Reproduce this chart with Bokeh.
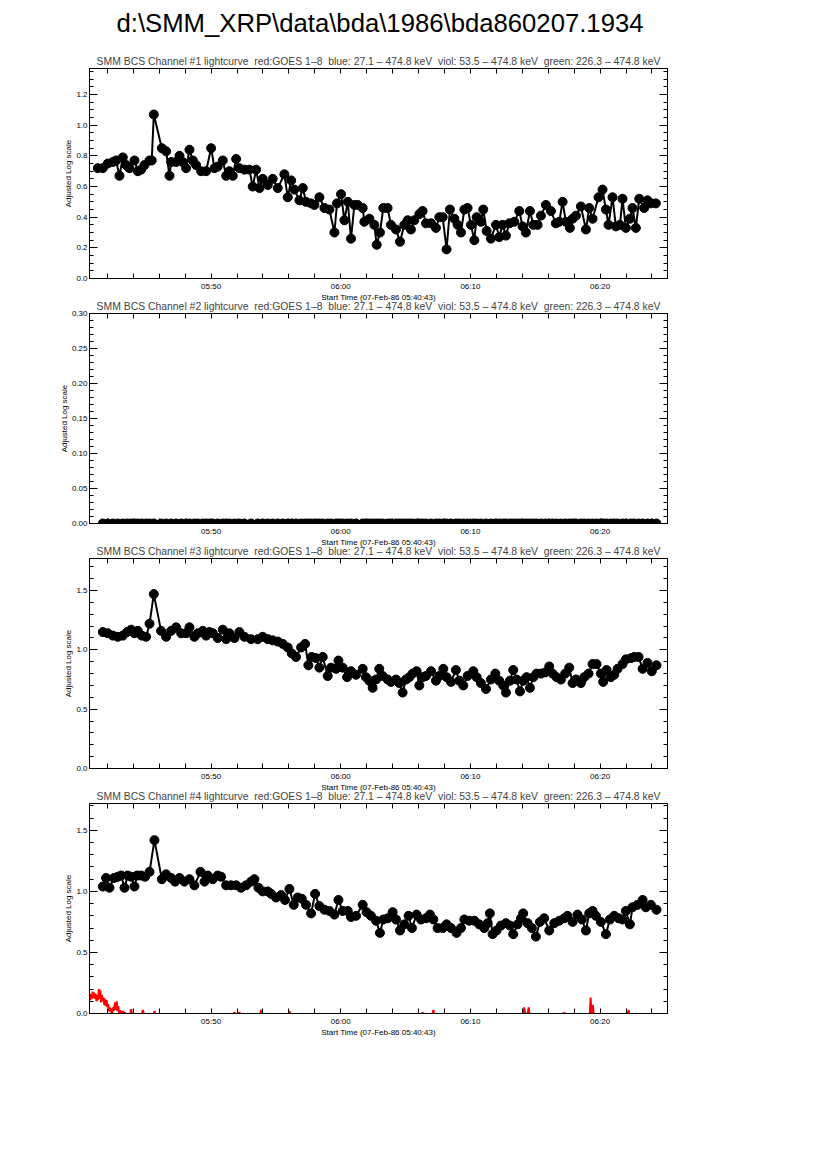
from bokeh.plotting import figure
from bokeh.models import LinearAxis, FixedTicker, Range1d, Div, PrintfTickFormatter
from bokeh.layouts import column
from bokeh.embed import file_html
from bokeh.resources import INLINE

nan = float("nan")

main_title = "d:\\SMM_XRP\\data\\bda\\1986\\bda860207.1934"
panel_title = ("SMM BCS Channel #{} lightcurve\u00a0\u00a0red:GOES 1\u20138\u00a0\u00a0blue: 27.1 \u2013 474.8 keV\u00a0\u00a0"
               "viol: 53.5 \u2013 474.8 keV\u00a0\u00a0green: 226.3 \u2013 474.8 keV")
x_label = "Start Time (07-Feb-86 05:40:43)"
y_label = "Adjusted Log scale"

# x axis: minutes after 05:40:00
x_start, x_end = 0.62, 45.2
tick_minutes = [10, 20, 30, 40]
tick_labels = ["05:50", "06:00", "06:10", "06:20"]
minor_minutes = [2, 4, 6, 8, 12, 14, 16, 18, 22, 24, 26, 28, 32, 34, 36, 38, 42, 44]

# Channel 1
t1 = [1.26,1.65,2.03,2.42,2.67,2.93,3.19,3.45,3.70,4.09,4.35,4.60,4.86,5.24,5.42,5.58,6.20,6.53,6.79,6.92,
      7.30,7.56,7.81,8.07,8.33,8.59,8.84,9.23,9.61,10.00,10.26,10.51,10.90,11.16,11.41,11.67,11.93,12.18,12.57,12.95,
      13.21,13.47,13.73,13.98,14.37,14.75,15.14,15.65,15.91,16.17,16.42,16.81,17.07,17.32,17.71,17.97,18.35,18.74,19.12,19.51,
      19.71,20.02,20.28,20.54,20.79,21.05,21.31,21.69,21.82,22.21,
      22.59,22.77,23.02,23.28,23.61,23.87,24.26,24.57,24.90,25.16,25.41,25.67,26.06,26.31,26.57,26.96,27.34,27.60,27.86,28.16,
      28.42,28.76,29.01,29.27,29.53,29.78,30.04,30.30,30.48,30.81,30.99,31.25,31.58,31.97,32.22,32.48,32.74,33.00,33.38,33.77,
      34.02,34.28,34.59,34.85,35.18,35.44,35.82,36.21,36.59,36.85,37.11,37.36,37.67,37.88,38.14,38.52,38.91,39.16,39.42,39.88,
      40.19,40.45,40.65,40.96,41.22,41.53,41.73,41.99,42.30,42.50,42.76,43.02,43.40,43.66,43.92,44.30]
v1 = [0.72,0.72,0.75,0.76,0.77,0.67,0.79,0.74,0.72,0.77,0.70,0.71,0.74,0.77,0.77,1.07,0.85,0.83,0.67,0.76,
      0.76,0.80,0.76,0.72,0.84,0.77,0.74,0.70,0.70,0.85,0.72,0.73,0.77,0.67,0.70,0.67,0.78,0.72,0.71,0.71,
      0.60,0.71,0.59,0.65,0.61,0.65,0.59,0.68,0.53,0.64,0.58,0.51,0.59,0.50,0.49,0.48,0.53,0.46,0.45,0.30,
      0.49,0.55,0.38,0.50,0.26,0.48,0.48,0.46,0.37,0.39,
      0.35,0.22,0.30,0.46,0.46,0.35,0.32,0.24,0.35,0.38,0.32,0.38,0.42,0.44,0.36,0.36,0.33,0.40,0.40,0.19,
      0.45,0.39,0.35,0.30,0.45,0.46,0.35,0.25,0.40,0.37,0.45,0.31,0.26,0.35,0.27,0.35,0.28,0.36,0.37,0.44,
      0.34,0.30,0.44,0.35,0.35,0.41,0.48,0.44,0.36,0.37,0.50,0.37,0.33,0.39,0.41,0.47,0.32,0.46,0.39,0.53,
      0.58,0.45,0.35,0.53,0.34,0.35,0.52,0.33,0.39,0.46,0.33,0.52,0.46,0.51,0.49,0.49]

# Channel 3
t3 = [1.65,2.03,2.42,2.80,3.19,3.52,3.83,4.09,4.35,4.65,4.99,5.25,5.58,6.14,6.53,6.92,7.30,7.69,8.07,8.33,
      8.71,8.97,9.36,9.61,9.87,10.13,10.51,10.90,11.16,11.41,11.80,12.18,12.57,13.08,13.60,13.98,14.37,14.75,15.14,15.53,
      15.91,16.22,16.55,16.94,17.25,17.50,17.76,18.10,18.35,18.61,18.99,19.25,19.64,19.82,20.15,20.49,20.79,21.18,
      21.69,21.94,22.20,22.46,22.72,22.97,23.23,23.62,23.87,24.26,24.51,24.77,25.03,25.29,25.54,25.85,26.06,26.31,26.57,26.96,
      27.34,27.60,27.91,28.16,28.50,28.88,29.14,29.45,29.78,30.22,30.48,30.81,31.20,31.58,31.92,32.22,32.53,32.74,33.05,33.30,
      33.56,33.82,34.07,34.33,34.59,34.85,35.10,35.44,35.77,36.08,36.34,36.64,36.98,37.31,37.62,37.88,38.14,38.52,38.78,39.11,
      39.42,39.73,40.06,40.24,40.50,40.83,41.09,41.35,41.73,41.99,42.38,42.63,42.97,43.28,43.66,43.99,44.35]
v3 = [1.15,1.14,1.12,1.11,1.12,1.15,1.17,1.14,1.16,1.12,1.11,1.22,1.47,1.16,1.11,1.16,1.19,1.14,1.14,1.19,
      1.11,1.14,1.16,1.12,1.15,1.14,1.10,1.17,1.09,1.14,1.10,1.15,1.11,1.09,1.09,1.11,1.09,1.08,1.07,1.05,
      1.02,0.97,0.94,1.02,1.05,0.87,0.94,0.93,0.85,0.94,0.78,0.85,0.84,0.91,0.85,0.77,0.82,0.79,
      0.84,0.77,0.74,0.68,0.75,0.84,0.78,0.75,0.73,0.75,0.72,0.64,0.75,0.77,0.80,0.82,0.70,0.77,0.78,0.82,
      0.74,0.78,0.84,0.77,0.73,0.83,0.74,0.70,0.78,0.82,0.77,0.72,0.67,0.75,0.80,0.74,0.70,0.64,0.74,0.83,
      0.75,0.65,0.74,0.77,0.68,0.77,0.80,0.80,0.81,0.86,0.80,0.77,0.75,0.80,0.85,0.72,0.75,0.72,0.77,0.80,
      0.88,0.88,0.80,0.73,0.83,0.77,0.79,0.84,0.88,0.92,0.93,0.94,0.94,0.84,0.89,0.82,0.87]

# Channel 2 (all readings are zero)
t2 = t3
v2 = [0.0 for _ in t2]

# Channel 4
t4 = [1.65,1.90,2.16,2.50,2.80,3.06,3.32,3.57,3.83,4.09,4.29,4.60,4.91,5.25,5.63,6.20,6.53,6.92,7.22,7.56,
      7.94,8.33,8.71,9.18,9.49,9.74,10.13,10.51,10.77,11.16,11.54,11.93,12.31,12.70,13.08,13.34,13.65,13.98,14.37,14.63,
      15.01,15.40,15.70,16.04,16.37,16.68,16.99,17.32,17.71,18.02,18.35,18.74,19.12,19.51,19.82,20.15,20.54,20.79,21.18,21.69,
      21.99,22.33,22.72,23.02,23.28,23.62,24.00,24.26,24.57,24.90,25.23,25.49,25.85,26.19,26.57,26.88,27.14,27.47,27.86,28.16,
      28.50,28.93,29.27,29.53,29.91,30.30,30.68,31.07,31.33,31.50,31.71,32.02,32.35,32.74,33.05,33.30,33.64,33.90,34.07,34.41,
      34.74,35.05,35.36,35.69,36.08,36.47,36.85,37.24,37.49,37.88,38.26,38.60,38.91,39.16,39.42,39.68,40.06,40.45,40.76,41.09,
      41.43,41.73,41.99,42.30,42.50,42.89,43.28,43.53,43.92,44.35]
v4 = [1.04,1.11,1.03,1.11,1.12,1.13,1.03,1.13,1.12,1.04,1.13,1.13,1.12,1.16,1.42,1.10,1.14,1.11,1.08,1.11,
      1.08,1.10,1.05,1.16,1.08,1.13,1.10,1.13,1.12,1.05,1.05,1.05,1.03,1.05,1.08,1.10,1.03,1.00,1.00,0.98,
      0.95,0.97,0.93,1.02,0.89,0.95,0.94,0.89,0.82,0.98,0.88,0.85,0.84,0.81,0.93,0.84,0.84,0.79,0.80,0.89,
      0.83,0.80,0.76,0.66,0.77,0.78,0.83,0.77,0.68,0.73,0.80,0.70,0.81,0.77,0.78,0.81,0.77,0.70,0.70,0.73,
      0.70,0.66,0.70,0.77,0.76,0.76,0.73,0.70,0.74,0.82,0.65,0.68,0.72,0.74,0.72,0.65,0.73,0.78,0.82,0.74,
      0.70,0.63,0.75,0.78,0.68,0.74,0.76,0.78,0.80,0.75,0.81,0.77,0.68,0.82,0.84,0.80,0.75,0.65,0.77,0.80,
      0.78,0.77,0.84,0.73,0.87,0.89,0.93,0.87,0.89,0.85]

# GOES 1-8 (red), panel 4; nan separates isolated spikes
red_t = [0.62,0.68,0.74,0.80,0.86,0.92,0.98,1.04,1.10,1.16,1.22,1.28,1.34,1.40,1.46,1.52,1.58,1.64,1.70,1.76,
         1.82,1.88,1.94,2.00,2.06,2.12,2.18,2.24,2.30,2.36,2.42,2.48,2.54,2.60,2.66,2.72,2.78,2.84,2.90,2.96,
         3.02,3.08,3.14,3.20,3.26,3.32,3.38,3.44, nan,
         3.77,3.83,3.89, nan, 4.67,4.73,4.79, nan, 5.58,5.64,5.70, nan, 11.74,11.80,11.86, nan,
         12.12,12.18,12.24, nan, 13.79,13.85,13.91, nan, 15.98,16.04,16.10, nan, 26.25,26.31,26.37, nan,
         27.08,27.14,27.20, nan, 34.09,34.15,34.21,34.43,34.49,34.55, nan, 37.18,37.24,37.30, nan,
         39.21,39.27,39.33,39.38,39.44,39.50, nan, 42.14,42.20,42.26]
red_v = [0.15,0.11,0.16,0.12,0.18,0.13,0.17,0.12,0.16,0.10,0.15,0.11,0.20,0.12,0.19,0.09,0.15,0.10,0.13,0.07,
         0.12,0.06,0.11,0.05,0.08,0.02,0.05,0.01,0.04,0.00,0.05,0.02,0.06,0.09,0.03,0.10,0.02,0.06,0.00,0.03,
         0.00,0.02,0.00,0.02,0.00,0.01,0.00,0.00, nan,
         0.00,0.035,0.00, nan, 0.00,0.03,0.00, nan, 0.00,0.02,0.00, nan, 0.00,0.01,0.00, nan,
         0.00,0.01,0.00, nan, 0.00,0.03,0.00, nan, 0.00,0.02,0.00, nan, 0.00,0.008,0.00, nan,
         0.00,0.03,0.00, nan, 0.00,0.05,0.00,0.00,0.05,0.00, nan, 0.00,0.008,0.00, nan,
         0.00,0.13,0.02,0.00,0.07,0.00, nan, 0.00,0.03,0.00]

FONT = "Liberation Sans"


def style_axis(ax, major_in, minor_in, labels=True):
    ax.axis_line_color = "black"
    ax.axis_line_width = 1
    ax.major_tick_line_color = "black"
    ax.minor_tick_line_color = "black"
    ax.major_tick_in = major_in
    ax.major_tick_out = 0
    ax.minor_tick_in = minor_in
    ax.minor_tick_out = 0
    ax.major_label_text_font = FONT
    if labels:
        ax.major_label_text_color = "black"
        ax.major_label_text_font_size = "8px"
        ax.major_label_standoff = 2
    else:
        ax.major_label_text_color = None
        ax.major_label_text_font_size = "1px"
        ax.major_label_standoff = 0
    ax.axis_label_text_font = FONT
    ax.axis_label_text_font_size = "8px"
    ax.axis_label_text_font_style = "normal"
    ax.axis_label_text_color = "black"


def make_panel(ch, t, v, ymax, ymajor, yminor, fmt, red=None, margin_top=0):
    p = figure(frame_width=578, frame_height=210,
               x_range=Range1d(x_start, x_end), y_range=Range1d(0, ymax),
               output_backend="svg", toolbar_location=None,
               min_border_left=89, min_border_right=10,
               min_border_top=8, min_border_bottom=8,
               background_fill_color="white", border_fill_color=None,
               outline_line_color="black", margin=(margin_top, 0, 0, 0))
    p.title.text = panel_title.format(ch)
    p.title.text_font = FONT
    p.title.text_font_size = "10.4px"
    p.title.text_font_style = "normal"
    p.title.align = "center"
    p.title.standoff = 4
    p.xgrid.visible = False
    p.ygrid.visible = False

    xt = FixedTicker(ticks=tick_minutes, minor_ticks=minor_minutes)
    yt = FixedTicker(ticks=ymajor, minor_ticks=yminor)

    xa = p.xaxis[0]
    xa.ticker = xt
    xa.major_label_overrides = {m: s for m, s in zip(tick_minutes, tick_labels)}
    xa.axis_label = x_label
    style_axis(xa, 5, 5)
    xa.major_label_standoff = 3
    xa.axis_label_standoff = -1

    ya = p.yaxis[0]
    ya.ticker = yt
    ya.formatter = PrintfTickFormatter(format=fmt)
    ya.axis_label = y_label
    style_axis(ya, 8, 4)
    ya.axis_label_standoff = 0

    top = LinearAxis(ticker=FixedTicker(ticks=tick_minutes, minor_ticks=minor_minutes))
    style_axis(top, 5, 5, labels=False)
    p.add_layout(top, "above")
    right = LinearAxis(ticker=FixedTicker(ticks=ymajor, minor_ticks=yminor))
    style_axis(right, 8, 4, labels=False)
    p.add_layout(right, "right")

    p.line(t, v, line_color="black", line_width=2)
    p.scatter(t, v, size=9, fill_color="black", line_color="black")
    if red is not None:
        p.line(red[0], red[1], line_color="#ff0000", line_width=2)
    return p


p1 = make_panel(1, t1, v1, 1.37, [0.0, 0.2, 0.4, 0.6, 0.8, 1.0, 1.2],
                [i * 0.05 for i in range(28)], "%.1f")
p2 = make_panel(2, t2, v2, 0.30, [0.0, 0.05, 0.10, 0.15, 0.20, 0.25, 0.30],
                [i * 0.01 for i in range(31)], "%.2f", margin_top=-8)
p3 = make_panel(3, t3, v3, 1.77, [0.0, 0.5, 1.0, 1.5],
                [i * 0.1 for i in range(18)], "%.1f", margin_top=-8)
p4 = make_panel(4, t4, v4, 1.72, [0.0, 0.5, 1.0, 1.5],
                [i * 0.1 for i in range(18)], "%.1f", red=(red_t, red_v), margin_top=-8)

head = Div(text=main_title, width=750, height=41,
           styles={"font-family": FONT, "font-size": "25.7px", "text-align": "center",
                   "color": "black", "padding-top": "0px"})

layout = column(head, p1, p2, p3, p4, spacing=0)

open("out.html", "w").write(file_html(layout, INLINE))
